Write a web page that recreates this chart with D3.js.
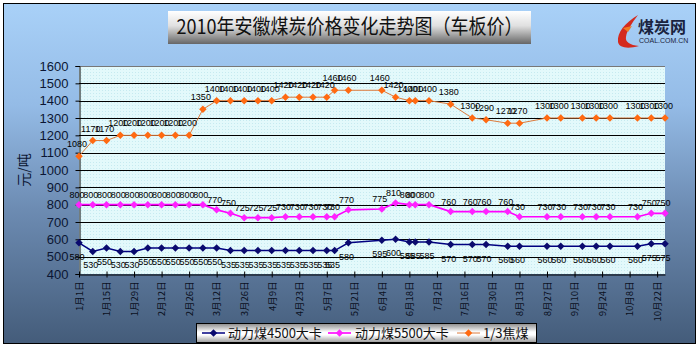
<!DOCTYPE html>
<html>
<head>
<meta charset="utf-8">
<script src="https://cdn.jsdelivr.net/npm/d3@7"></script>
<style>
  body { margin: 0; background: #ffffff; }
  svg { display: block; }
</style>
</head>
<body>
<svg id="chart" width="699" height="347"></svg>
<script>
// Weekly pit-mouth prices, 2010 (yuan per tonne)
const dates = [
  "2010-01-01","2010-01-08","2010-01-15","2010-01-22","2010-01-29","2010-02-05","2010-02-12",
  "2010-02-19","2010-02-26","2010-03-05","2010-03-12","2010-03-19","2010-03-26","2010-04-02",
  "2010-04-09","2010-04-16","2010-04-23","2010-04-30","2010-05-07","2010-05-11","2010-05-18",
  "2010-06-04","2010-06-11","2010-06-18","2010-06-21","2010-06-28","2010-07-09","2010-07-20",
  "2010-07-27","2010-08-07","2010-08-13","2010-08-27","2010-09-03","2010-09-14","2010-09-21",
  "2010-09-28","2010-10-12","2010-10-19","2010-10-26"
];
const coal4500 = [580,530,550,530,530,550,550,550,550,550,550,535,535,535,535,535,535,535,535,535,
  580,595,600,585,585,585,570,570,570,560,560,560,560,560,560,560,560,575,575];
const coal5500 = [800,800,800,800,800,800,800,800,800,800,770,750,725,725,725,730,730,730,730,730,
  770,775,810,800,800,800,760,760,760,760,730,730,730,730,730,730,730,750,750];
const coking = [1080,1170,1170,1200,1200,1200,1200,1200,1200,1350,1400,1400,1400,1400,1400,1420,1420,1420,1420,
  1460,1460,1460,1420,1400,1400,1400,1380,1300,1290,1270,1270,1300,1300,1300,1300,1300,1300,1300,1300];
const seriesNames = ["动力煤4500大卡", "动力煤5500大卡", "1/3焦煤"];
const tickDates = [
  "2010-01-01","2010-01-15","2010-01-29","2010-02-12","2010-02-26","2010-03-12","2010-03-26",
  "2010-04-09","2010-04-23","2010-05-07","2010-05-21","2010-06-04","2010-06-18","2010-07-02",
  "2010-07-16","2010-07-30","2010-08-13","2010-08-27","2010-09-10","2010-09-24","2010-10-08",
  "2010-10-22"
];
const yTicks = [400,500,600,700,800,900,1000,1100,1200,1300,1400,1500,1600];
const titleText = "2010年安徽煤炭价格变化走势图（车板价）";
const yTitle = "元/吨";

const parse = d3.utcParse("%Y-%m-%d");
const fmtTick = d3.utcFormat("%-m月%-d日");

const svg = d3.select("#chart");
const W = 699, H = 347;
const plot = { left: 79, right: 665, top: 66, bottom: 274 };

const defs = svg.append("defs");
const bgGrad = defs.append("linearGradient").attr("id", "bgGrad")
  .attr("x1", 0).attr("y1", 0).attr("x2", 0).attr("y2", 1);
[[0, "#a9d1f8"], [0.3, "#94bbe6"], [0.6, "#6d8cb3"], [1, "#445c7a"]]
  .forEach(([o, c]) => bgGrad.append("stop").attr("offset", o).attr("stop-color", c));

const titleGrad = defs.append("linearGradient").attr("id", "titleGrad")
  .attr("x1", 0).attr("y1", 0).attr("x2", 0).attr("y2", 1);
[[0, "#ffffff"], [0.45, "#e0e0e0"], [1, "#666666"]]
  .forEach(([o, c]) => titleGrad.append("stop").attr("offset", o).attr("stop-color", c));

const legGrad = defs.append("linearGradient").attr("id", "legGrad")
  .attr("x1", 0).attr("y1", 0).attr("x2", 0).attr("y2", 1);
[[0, "#8a8a8a"], [0.45, "#ffffff"], [0.6, "#ffffff"], [1, "#9a9a9a"]]
  .forEach(([o, c]) => legGrad.append("stop").attr("offset", o).attr("stop-color", c));

const pat = defs.append("pattern").attr("id", "plotPat")
  .attr("width", 3).attr("height", 3).attr("patternUnits", "userSpaceOnUse");
pat.append("rect").attr("width", 3).attr("height", 3).attr("fill", "#e3f9fb");
pat.append("rect").attr("width", 1).attr("height", 1).attr("fill", "#c6eaf0");

// Chart background and frame
svg.append("rect").attr("x", 3.5).attr("y", 3.5).attr("width", W - 7).attr("height", H - 7)
  .attr("fill", "url(#bgGrad)").attr("stroke", "#000").attr("stroke-width", 1);

// Title banner
svg.append("rect").attr("x", 168).attr("y", 11).attr("width", 363).attr("height", 33)
  .attr("fill", "url(#titleGrad)");
svg.append("text").attr("x", 0).attr("y", 0)
  .attr("transform", "translate(349.5,33.5) scale(1,1.15)")
  .attr("text-anchor", "middle")
  .attr("font-family", "'Noto Sans CJK SC', sans-serif")
  .attr("font-size", 18)
  .attr("textLength", 346).attr("lengthAdjust", "spacingAndGlyphs")
  .attr("fill", "#111").text(titleText);

// Site logo
const logo = svg.append("g");
logo.append("path")
  .attr("d", "M638,15 C625,23 617,32 618,42 C619,48 628,49 639,46 C630,45 625,42 626,37 C627,30 632,23 638,15 Z")
  .attr("fill", "#d42a1e");
logo.append("path")
  .attr("d", "M623,28 L632,26 L628,32 Z").attr("fill", "#f07a20");
logo.append("text").attr("x", 638).attr("y", 33)
  .attr("font-family", "'Noto Sans CJK SC', sans-serif").attr("font-weight", "bold")
  .attr("font-size", 16).attr("fill", "#1a2440").text("煤炭网");
logo.append("text").attr("x", 639).attr("y", 43)
  .attr("font-family", "'Liberation Sans', sans-serif")
  .attr("font-size", 7).attr("fill", "#1a2440").text("COAL.COM.CN");

// Scales
const x = d3.scaleUtc()
  .domain([parse(dates[0]), parse(dates[dates.length - 1])])
  .range([plot.left, plot.right]);
const y = d3.scaleLinear().domain([400, 1600]).range([plot.bottom, plot.top]);

// Plot area
svg.append("rect").attr("x", plot.left).attr("y", plot.top)
  .attr("width", plot.right - plot.left).attr("height", plot.bottom - plot.top)
  .attr("fill", "url(#plotPat)");

// Horizontal gridlines
svg.append("g").selectAll("line").data(yTicks.filter(v => v > 400)).join("line")
  .attr("x1", plot.left).attr("x2", plot.right)
  .attr("y1", d => Math.round(y(d)) + 0.5).attr("y2", d => Math.round(y(d)) + 0.5)
  .attr("stroke", d => d === 1600 ? "#777" : "#000").attr("stroke-width", 1);

// Y axis
const yAxis = svg.append("g").attr("transform", `translate(${plot.left + 0.5},0)`)
  .call(d3.axisLeft(y).tickValues(yTicks).tickFormat(d3.format("d")).tickSize(4).tickPadding(7));
yAxis.select(".domain").attr("stroke", "#000");
yAxis.selectAll(".tick line").attr("stroke", "#000");
yAxis.selectAll("text").attr("font-family", "'Liberation Sans', Arial, sans-serif")
  .attr("font-size", 13).attr("fill", "#0b1633");

svg.append("text")
  .attr("transform", "translate(29,170) rotate(-90)")
  .attr("text-anchor", "middle")
  .attr("font-family", "'Noto Sans CJK SC', sans-serif")
  .attr("font-size", 14).attr("fill", "#0b1633").text(yTitle);

// X axis
const xAxis = svg.append("g").attr("transform", `translate(0,${plot.bottom + 0.5})`)
  .call(d3.axisBottom(x).tickValues(tickDates.map(parse)).tickFormat(fmtTick)
    .tickSizeInner(3).tickSizeOuter(0).tickPadding(5));
xAxis.select(".domain").attr("stroke", "#000");
xAxis.selectAll(".tick line").attr("stroke", "#000").attr("y1", -3).attr("y2", 3);
xAxis.selectAll("text")
  .attr("font-family", "'Noto Sans CJK SC', sans-serif")
  .attr("font-size", 9.5).attr("fill", "#0b1122")
  .attr("text-anchor", "end").attr("dy", "0.35em")
  .attr("transform", "translate(0,7) rotate(-90)")
  .attr("x", 0).attr("y", 0);

// Series
const series = [
  { name: seriesNames[0], values: coal4500, line: "#000080", mark: "#0a0a6e", lw: 1.5, dy: 17 },
  { name: seriesNames[1], values: coal5500, line: "#ff00ff", mark: "#ff22ff", lw: 1.6, dy: -7 },
  { name: seriesNames[2], values: coking, line: "#dc7a3c", mark: "#ff6a12", lw: 1, dy: -9 }
];
const diamond = d3.symbol().type(d3.symbolSquare).size(28);
const lineGen = d3.line().x(d => x(d.date)).y(d => y(d.v));

series.forEach(s => {
  const pts = s.values.map((v, i) => ({ date: parse(dates[i]), v }));
  const g = svg.append("g");
  g.append("path").datum(pts).attr("d", lineGen)
    .attr("fill", "none").attr("stroke", s.line).attr("stroke-width", s.lw);
  g.selectAll("path.m").data(pts).join("path").attr("class", "m")
    .attr("d", diamond)
    .attr("transform", d => `translate(${x(d.date)},${y(d.v)}) rotate(45)`)
    .attr("fill", s.mark);
  s.pts = pts;
});

// Value labels
series.forEach(s => {
  svg.append("g").selectAll("text").data(s.pts).join("text")
    .attr("x", d => x(d.date) - 2).attr("y", d => y(d.v) + s.dy)
    .attr("text-anchor", "middle")
    .attr("font-family", "'Liberation Sans', Arial, sans-serif")
    .attr("font-size", 9).attr("fill", "#000")
    .text(d => d.v);
});

// Legend
const leg = svg.append("g");
leg.append("rect").attr("x", 196.5).attr("y", 323.5).attr("width", 340).attr("height", 19)
  .attr("fill", "url(#legGrad)").attr("stroke", "#000");
const legItems = [
  { s: series[0], x0: 202, tx: 228 },
  { s: series[1], x0: 328, tx: 355 },
  { s: series[2], x0: 457, tx: 483 }
];
legItems.forEach(it => {
  leg.append("line").attr("x1", it.x0).attr("x2", it.x0 + 23).attr("y1", 333).attr("y2", 333)
    .attr("stroke", it.s.line).attr("stroke-width", it.s.lw);
  leg.append("path").attr("d", diamond)
    .attr("transform", `translate(${it.x0 + 11.5},333) rotate(45)`).attr("fill", it.s.mark);
  leg.append("text").attr("x", it.tx).attr("y", 338)
    .attr("font-family", "'Noto Sans CJK SC', sans-serif")
    .attr("font-size", 13).attr("fill", "#111").text(it.s.name);
});
</script>
</body>
</html>
